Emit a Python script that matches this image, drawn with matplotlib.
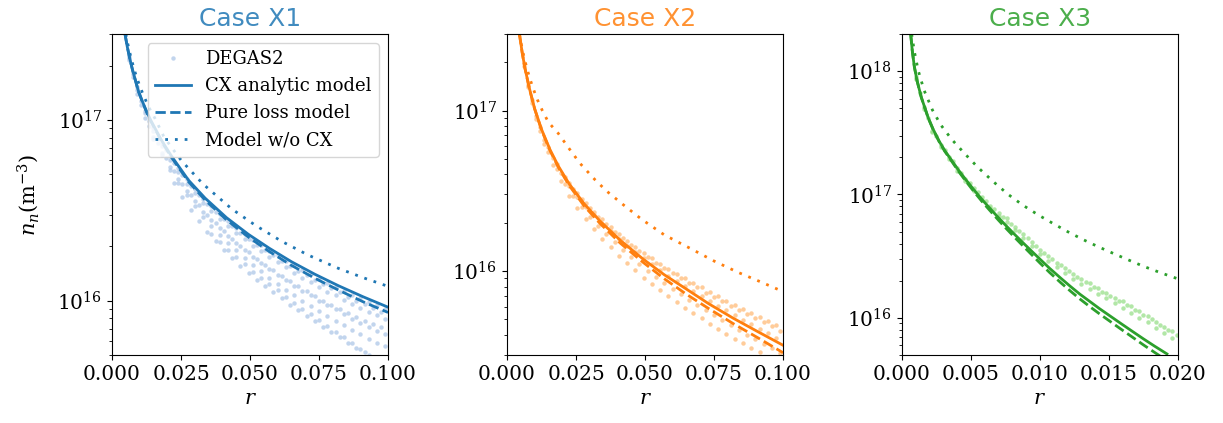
import numpy as np
import matplotlib
matplotlib.use("Agg")
import matplotlib.pyplot as plt

plt.rcParams["font.family"] = "DejaVu Serif"
plt.rcParams["mathtext.fontset"] = "dejavuserif"

# all densities below are in units of 1e16 m^-3

# ---------------- Case X1 ----------------
x1_r = [0.0047, 0.0055, 0.0065, 0.0075, 0.0085, 0.0095, 0.0110, 0.0125, 0.0140, 0.0156, 0.0180,
        0.0216, 0.0277, 0.0337, 0.0415, 0.0494, 0.0570, 0.0651, 0.0735, 0.0820, 0.0910, 0.1000]
x1_cx = [30.0, 25.6, 21.7, 18.8, 16.6, 14.6, 12.7, 11.2, 10.0, 9.0, 7.7,
         6.3, 4.65, 3.7, 2.88, 2.33, 1.95, 1.64, 1.40, 1.21, 1.05, 0.92]
x1_loss = [30.0, 25.6, 21.65, 18.75, 16.5, 14.5, 12.6, 11.1, 9.9, 8.9, 7.6,
           6.2, 4.56, 3.61, 2.8, 2.25, 1.87, 1.565, 1.33, 1.145, 0.985, 0.86]
x1_r_nocx = [0.0050, 0.0060, 0.0070, 0.0082, 0.0095, 0.0110, 0.0125, 0.0140, 0.0156, 0.0186,
             0.0210, 0.0252, 0.0330, 0.0434, 0.0520, 0.0615, 0.0710, 0.0820, 0.0910, 0.1000]
x1_nocx = [30.0, 25.2, 21.8, 18.7, 16.3, 14.2, 12.56, 11.27, 10.2, 8.2,
           7.25, 5.95, 4.42, 3.22, 2.61, 2.13, 1.79, 1.51, 1.34, 1.2]

grid_a = [0.006, 0.009, 0.012, 0.015, 0.018, 0.021, 0.024, 0.027,
          0.030, 0.033, 0.036, 0.039, 0.042, 0.045, 0.048, 0.051,
          0.054, 0.057, 0.060, 0.063, 0.066, 0.069, 0.072, 0.075,
          0.078, 0.081, 0.084, 0.087, 0.090, 0.093, 0.096, 0.099]
grid_b = [0.0075, 0.0105, 0.0135, 0.0165, 0.0195, 0.0225, 0.0255, 0.0285,
          0.0315, 0.0345, 0.0375, 0.0405, 0.0435, 0.0465, 0.0495, 0.0525,
          0.0555, 0.0585, 0.0615, 0.0645, 0.0675, 0.0705, 0.0735, 0.0765,
          0.0795, 0.0825, 0.0855, 0.0885, 0.0915, 0.0945, 0.0975]

x1_degas = [
    (grid_a, [22.6, 15.2, 11.3, 9.1, 7.5, 6.3, 5.45, 4.7, 4.18, 3.68, 3.33, 3.02, 2.76, 2.53, 2.35, 2.17,
              2.03, 1.89, 1.78, 1.66, 1.57, 1.47, 1.40, 1.31, 1.25, 1.19, 1.13, 1.08, 1.03, 0.985, 0.94, 0.9]),
    (grid_a, [22.1, 14.7, 10.9, 8.7, 7.15, 6.0, 5.15, 4.45, 3.95, 3.48, 3.13, 2.85, 2.58, 2.38, 2.19, 2.02,
              1.88, 1.74, 1.63, 1.53, 1.43, 1.34, 1.27, 1.19, 1.12, 1.07, 1.01, 0.96, 0.915, 0.87, 0.83, 0.79]),
    (grid_a, [21.4, 14.0, 10.3, 8.1, 6.6, 5.5, 4.7, 4.03, 3.55, 3.1, 2.78, 2.52, 2.27, 2.08, 1.91, 1.75,
              1.62, 1.5, 1.39, 1.3, 1.21, 1.13, 1.07, 1.0, 0.94, 0.895, 0.845, 0.795, 0.755, 0.715, 0.68, 0.65]),
    (grid_a[3:], [7.9, 6.4, 5.3, 4.5, 3.85, 3.35, 2.9, 2.58, 2.32, 2.08, 1.9, 1.73, 1.58, 1.46, 1.34,
                  1.24, 1.15, 1.07, 1.0, 0.935, 0.875, 0.82, 0.775, 0.73, 0.685, 0.65, 0.615, 0.585, 0.56]),
    (grid_a[10:], [2.35, 2.12, 1.91, 1.74, 1.59, 1.45, 1.34, 1.23, 1.14, 1.05, 0.97, 0.9, 0.84,
                   0.78, 0.72, 0.67, 0.625, 0.58, 0.54, 0.5, 0.47, 0.44]),
    (grid_b, [18.0, 12.8, 9.95, 8.1, 6.8, 5.78, 4.95, 4.33, 3.86, 3.42, 3.1, 2.83, 2.58, 2.38, 2.2, 2.04,
              1.9, 1.78, 1.66, 1.56, 1.46, 1.38, 1.3, 1.23, 1.17, 1.11, 1.05, 1.0, 0.955, 0.905, 0.87]),
    (grid_b, [17.3, 12.1, 9.3, 7.5, 6.2, 5.2, 4.42, 3.83, 3.38, 2.97, 2.68, 2.42, 2.2, 2.01, 1.85, 1.71,
              1.58, 1.47, 1.37, 1.28, 1.2, 1.13, 1.06, 1.0, 0.95, 0.9, 0.855, 0.815, 0.775, 0.74, 0.71]),
    (grid_b[5:], [4.5, 3.75, 3.17, 2.75, 2.4, 2.13, 1.9, 1.72, 1.56, 1.42, 1.3, 1.2, 1.11, 1.03,
                  0.95, 0.885, 0.825, 0.77, 0.715, 0.67, 0.625, 0.585, 0.55, 0.52, 0.49, 0.46]),
]

# ---------------- Case X2 ----------------
x2_r = [0.0045, 0.0055, 0.0065, 0.0080, 0.0100, 0.0125, 0.0156, 0.0186, 0.0225, 0.0280,
        0.0337, 0.0410, 0.0494, 0.0570, 0.0651, 0.0730, 0.0820, 0.0910, 0.1000]
x2_cx = [30.0, 23.0, 18.4, 14.0, 10.3, 7.65, 5.7, 4.51, 3.5, 2.62,
         2.05, 1.558, 1.184, 0.948, 0.77, 0.627, 0.508, 0.418, 0.345]
x2_loss = [30.0, 22.95, 18.35, 13.95, 10.25, 7.58, 5.62, 4.43, 3.42, 2.54,
           1.98, 1.495, 1.13, 0.895, 0.715, 0.585, 0.47, 0.383, 0.31]
x2_r_nocx = [0.0045, 0.0052, 0.0060, 0.0071, 0.0083, 0.0095, 0.0110, 0.0128, 0.0150, 0.0186,
             0.0225, 0.0264, 0.0318, 0.0361, 0.0420, 0.0488, 0.0570, 0.0669, 0.0750, 0.0838,
             0.0920, 0.1000]
x2_nocx = [30.0, 25.8, 22.2, 18.6, 15.8, 13.7, 11.7, 10.0, 8.46, 7.2,
           5.8, 4.7, 3.72, 3.15, 2.6, 2.1, 1.68, 1.37, 1.155, 0.98,
           0.855, 0.745]

x2_degas = [
    (grid_a, [19.7, 11.6, 7.9, 5.9, 4.68, 3.85, 3.25, 2.8, 2.46, 2.18, 1.96, 1.76, 1.6, 1.45, 1.33, 1.22,
              1.13, 1.04, 0.97, 0.9, 0.845, 0.79, 0.735, 0.69, 0.65, 0.61, 0.575, 0.54, 0.51, 0.48, 0.452, 0.425]),
    (grid_b[5:], [3.55, 3.05, 2.66, 2.35, 2.1, 1.89, 1.71, 1.55, 1.42, 1.3, 1.2, 1.11, 1.03, 0.96,
                  0.9, 0.845, 0.79, 0.74, 0.695, 0.655, 0.615, 0.58, 0.548, 0.518, 0.49, 0.46]),
    (grid_b, [14.4, 9.2, 6.6, 5.05, 4.1, 3.4, 2.9, 2.52, 2.22, 1.97, 1.77, 1.59, 1.44, 1.31, 1.2, 1.1,
              1.01, 0.935, 0.865, 0.805, 0.75, 0.7, 0.65, 0.608, 0.568, 0.53, 0.497, 0.466, 0.438, 0.41, 0.385]),
    (grid_a, [19.0, 11.1, 7.45, 5.5, 4.3, 3.5, 2.92, 2.5, 2.17, 1.9, 1.69, 1.51, 1.35, 1.215, 1.105, 1.0,
              0.92, 0.84, 0.775, 0.715, 0.665, 0.617, 0.57, 0.53, 0.494, 0.458, 0.428, 0.4, 0.375, 0.352, 0.33, 0.31]),
    (grid_b, [14.0, 8.8, 6.15, 4.6, 3.65, 2.95, 2.46, 2.1, 1.82, 1.59, 1.41, 1.25, 1.12, 1.01, 0.91, 0.83,
              0.76, 0.695, 0.64, 0.59, 0.55, 0.508, 0.47, 0.438, 0.408, 0.38, 0.355, 0.333, 0.312, 0.292, 0.273]),
]

# ---------------- Case X3 ----------------
x3_r = [0.00063, 0.00075, 0.0009, 0.0011, 0.0014, 0.0019, 0.00227, 0.0027, 0.0031, 0.0036, 0.0041,
        0.0046, 0.0052, 0.0058, 0.0063, 0.0070, 0.0076, 0.0082, 0.0088, 0.0094, 0.0100, 0.0107,
        0.0115, 0.0122, 0.0129, 0.0136, 0.0143, 0.0150, 0.0158, 0.0166, 0.0175, 0.0183, 0.0192]
x3_cx = [200.0, 145.0, 108.0, 83.0, 61.4, 41.9, 33.6, 27.0, 22.7, 18.9, 15.75,
         13.3, 10.95, 9.1, 7.88, 6.47, 5.5, 4.7, 4.03, 3.47, 2.99, 2.52,
         2.1, 1.8, 1.553, 1.36, 1.19, 1.05, 0.91, 0.79, 0.675, 0.59, 0.51]
x3_loss = [200.0, 145.0, 108.0, 83.0, 61.3, 41.7, 33.3, 26.7, 22.4, 18.6, 15.4,
           12.95, 10.6, 8.78, 7.57, 6.18, 5.23, 4.45, 3.8, 3.25, 2.78, 2.33,
           1.93, 1.65, 1.42, 1.235, 1.08, 0.95, 0.82, 0.71, 0.603, 0.525, 0.45]
x3_r_nocx = [0.0007, 0.0009, 0.00118, 0.0016, 0.0022, 0.0028, 0.0036, 0.00457, 0.0055, 0.00662, 0.0077,
             0.00879, 0.0099, 0.01097, 0.0120, 0.01314, 0.0142, 0.01531, 0.0164, 0.01749, 0.0187, 0.0200]
x3_nocx = [200.0, 143.5, 100.9, 70.0, 48.6, 36.8, 28.0, 21.3, 16.6, 12.7, 10.0,
           8.15, 6.8, 5.8, 5.0, 4.3, 3.78, 3.33, 2.95, 2.62, 2.33, 2.07]

grid_c = [0.0010, 0.0016, 0.0022, 0.0028, 0.0034, 0.0040, 0.0046, 0.0052,
          0.0058, 0.0064, 0.0070, 0.0076, 0.0082, 0.0088, 0.0094, 0.0100,
          0.0106, 0.0112, 0.0118, 0.0124, 0.0130, 0.0136, 0.0142, 0.0148,
          0.0154, 0.0160, 0.0166, 0.0172, 0.0178, 0.0184, 0.0190, 0.0196]
grid_d = [0.0013, 0.0019, 0.0025, 0.0031, 0.0037, 0.0043, 0.0049, 0.0055,
          0.0061, 0.0067, 0.0073, 0.0079, 0.0085, 0.0091, 0.0097, 0.0103,
          0.0109, 0.0115, 0.0121, 0.0127, 0.0133, 0.0139, 0.0145, 0.0151,
          0.0157, 0.0163, 0.0169, 0.0175, 0.0181, 0.0187, 0.0193, 0.0199]

x3_degas = [
    (grid_c, [90.0, 51.0, 33.0, 25.2, 20.2, 16.3, 13.4, 11.2, 9.5, 8.1, 7.1, 6.4, 5.5, 4.8, 4.1, 3.55,
              3.15, 2.8, 2.52, 2.27, 2.07, 1.9, 1.73, 1.6, 1.46, 1.36, 1.24, 1.13, 1.03, 0.93, 0.85, 0.78]),
    (grid_c, [86.0, 49.0, 32.0, 24.3, 19.4, 15.6, 12.8, 10.7, 9.0, 7.7, 6.7, 6.0, 5.15, 4.45, 3.8, 3.3,
              2.9, 2.57, 2.3, 2.07, 1.88, 1.72, 1.56, 1.44, 1.31, 1.21, 1.10, 1.0, 0.92, 0.83, 0.76, 0.69]),
    (grid_d, [67.0, 41.5, 29.8, 22.8, 18.6, 15.0, 12.5, 10.5, 8.9, 7.6, 6.6, 5.75, 5.05, 4.4, 3.85, 3.38,
              3.0, 2.68, 2.4, 2.15, 1.96, 1.78, 1.63, 1.5, 1.38, 1.27, 1.16, 1.06, 0.97, 0.88, 0.8, 0.72]),
]

titles = ["Case X1", "Case X2", "Case X3"]
colors = ["tab:blue", "tab:orange", "tab:green"]
light_colors = ["#aec7e8", "#ffbb78", "#98df8a"]
xlims = [(0, 0.1), (0, 0.1), (0, 0.02)]
ylims = [(5e15, 3e17), (3e15, 3e17), (5e15, 2e18)]

cases = [
    (x1_r, x1_cx, x1_loss, x1_r_nocx, x1_nocx, x1_degas),
    (x2_r, x2_cx, x2_loss, x2_r_nocx, x2_nocx, x2_degas),
    (x3_r, x3_cx, x3_loss, x3_r_nocx, x3_nocx, x3_degas),
]

fig, axes = plt.subplots(1, 3, figsize=(12.23, 4.23), dpi=100)
plt.subplots_adjust(left=0.0916, right=0.9632, bottom=0.1608, top=0.9196, wspace=0.431)

for i, ax in enumerate(axes):
    r, cx, loss, r_nocx, nocx, degas = cases[i]
    c = colors[i]
    for k, (dr, strand) in enumerate(degas):
        ax.plot(dr, np.array(strand) * 1e16, "o", ms=3.2, color=light_colors[i],
                alpha=0.75, mec="none", label="DEGAS2" if k == 0 else None)
    ax.plot(r, np.array(cx) * 1e16, "-", color=c, lw=2, label="CX analytic model")
    ax.plot(r, np.array(loss) * 1e16, "--", color=c, lw=2, label="Pure loss model")
    ax.plot(r_nocx, np.array(nocx) * 1e16, color=c, lw=2, ls=(0, (1, 2.5)),
            label="Model w/o CX")
    ax.set_yscale("log")
    ax.set_xlim(*xlims[i])
    ax.set_ylim(*ylims[i])
    ax.set_title(titles[i], color=c, alpha=0.85, fontsize=18, family="DejaVu Sans")
    ax.set_xlabel("$r$", fontsize=15)
    ax.tick_params(labelsize=14.5)
    if i == 0:
        ax.set_ylabel(r"$n_n(\mathrm{m}^{-3})$", fontsize=15, labelpad=12)
        ax.legend(loc="upper right", fontsize=13)

plt.savefig("out.png", dpi=100)
